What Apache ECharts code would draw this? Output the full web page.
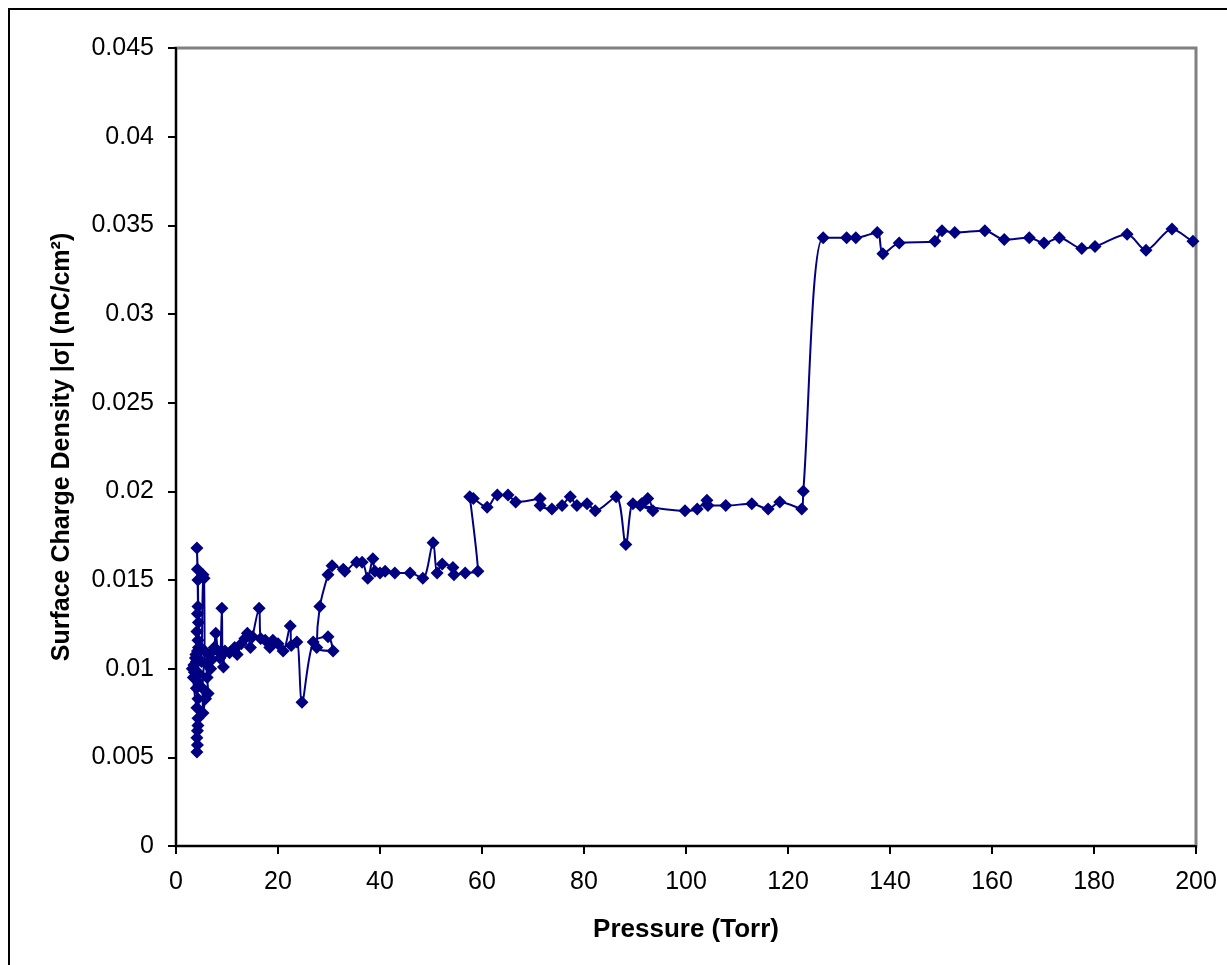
<!DOCTYPE html>
<html>
<head>
<meta charset="utf-8">
<script src="https://cdn.jsdelivr.net/npm/echarts@6/dist/echarts.min.js"></script>
<style>
html,body{margin:0;padding:0;background:#fff;}
#chart{width:1227px;height:965px;}
</style>
</head>
<body>
<div id="chart"></div>
<script>
// Pressure (Torr), in measurement order
const pressure = [
  3.2, 3.6, 4.0, 4.2, 3.8, 4.3, 4.1, 4.4, 4.2, 4.3, 4.2, 4.1, 4.3, 4.4, 4.2, 4.0, 4.3, 4.1, 4.3, 4.2, 4.1, 4.2, 4.1,
  4.3, 3.4, 3.9, 4.6, 3.5, 4.8, 5.0, 5.3, 5.5, 5.6, 5.2, 5.3, 5.8, 6.3, 6.1, 5.9, 6.8, 6.5, 7.0, 7.5, 7.8, 8.2,
  8.6, 9.0, 9.1, 9.3, 9.6,
  10.5, 11.5, 12.0, 12.8, 13.5, 14.0, 14.6, 15.0, 16.3, 16.6, 17.5, 18.4, 19.0, 20.0, 21.0, 22.4, 22.6, 23.7,
  24.7, 26.9, 29.8, 30.8, 27.6, 28.2, 29.8, 30.6, 32.8, 33.1, 35.4, 36.5, 37.6, 38.6, 39.0, 40.0, 41.0, 42.9,
  45.9, 48.4, 50.4, 51.2, 52.2, 54.3, 54.5, 56.7, 59.2, 57.6, 58.3, 61.0, 63.0, 65.1, 66.6, 71.4, 71.4, 73.7,
  75.7, 77.3, 78.6, 80.6, 82.2, 86.3, 88.2, 89.6, 91.3, 92.5, 93.5, 91.0, 99.8, 102.2, 104.1, 104.3, 107.8,
  112.9, 116.1, 118.4, 122.7, 123.0, 126.9, 131.5, 133.3, 137.5, 138.6, 141.8, 148.8, 150.2, 152.7, 158.6,
  162.4, 167.3, 170.2, 173.2, 177.6, 180.2, 186.5, 190.2, 195.3, 199.4, 201.3
];
// Surface charge density |sigma| (nC/cm^2)
const density = [
  0.0100, 0.0098, 0.0104, 0.0110, 0.0106, 0.0116, 0.0121, 0.0126, 0.0131, 0.0135, 0.0156, 0.0168, 0.0150, 0.0112, 0.0093, 0.0089, 0.0083, 0.0078, 0.0072, 0.0065, 0.0061, 0.0057, 0.0053,
  0.0068, 0.0095, 0.0108, 0.0097, 0.0102, 0.0112, 0.0104, 0.0153, 0.0151, 0.0110, 0.0089, 0.0075, 0.0083, 0.0086, 0.0095, 0.0103, 0.0100, 0.0108, 0.0105, 0.0112, 0.0120, 0.0110,
  0.0106, 0.0134, 0.0108, 0.0101, 0.0110,
  0.0109, 0.0112, 0.0108, 0.0114, 0.0117, 0.0120, 0.0112, 0.0118, 0.0134, 0.0117, 0.0116, 0.0112, 0.0116, 0.0114, 0.0110, 0.0124, 0.0113, 0.0115,
  0.0081, 0.0115, 0.0118, 0.0110, 0.0112, 0.0135, 0.0153, 0.0158, 0.0156, 0.0155, 0.0160, 0.0160, 0.0151, 0.0162, 0.0155, 0.0154, 0.0155, 0.0154,
  0.0154, 0.0151, 0.0171, 0.0154, 0.0159, 0.0157, 0.0153, 0.0154, 0.0155, 0.0197, 0.0196, 0.0191, 0.0198, 0.0198, 0.0194, 0.0196, 0.0192, 0.0190,
  0.0192, 0.0197, 0.0192, 0.0193, 0.0189, 0.0197, 0.0170, 0.0193, 0.0193, 0.0196, 0.0189, 0.0192, 0.0189, 0.0190, 0.0195, 0.0192, 0.0192,
  0.0193, 0.0190, 0.0194, 0.0190, 0.0200, 0.0343, 0.0343, 0.0343, 0.0346, 0.0334, 0.0340, 0.0341, 0.0347, 0.0346, 0.0347,
  0.0342, 0.0343, 0.0340, 0.0343, 0.0337, 0.0338, 0.0345, 0.0336, 0.0348, 0.0341, 0.0340
];
const xTicks = [0, 20, 40, 60, 80, 100, 120, 140, 160, 180, 200];
const yTicks = [0, 0.005, 0.01, 0.015, 0.02, 0.025, 0.03, 0.035, 0.04, 0.045];

const xMin = xTicks[0], xMax = xTicks[xTicks.length - 1];
const data = pressure.map((p, i) => {
  const item = { value: [p, density[i]] };
  if (p > xMax) item.symbol = 'none';
  return item;
});

const chart = echarts.init(document.getElementById('chart'));
const navy = '#000080';
const font = '"Liberation Sans", Arial, sans-serif';
chart.setOption({
  animation: false,
  backgroundColor: '#ffffff',
  graphic: [{
    type: 'rect', shape: { x: 9, y: 9, width: 1240, height: 980 },
    style: { fill: 'none', stroke: '#000', lineWidth: 2 }, z: -1
  }],
  grid: {
    left: 176, top: 48, right: 31, bottom: 119,
    show: true, borderColor: '#808080', borderWidth: 3, backgroundColor: '#fff'
  },
  xAxis: {
    type: 'value', min: xMin, max: xMax, interval: xTicks[1] - xTicks[0],
    name: 'Pressure (Torr)', nameLocation: 'middle', nameGap: 71,
    nameTextStyle: { fontFamily: font, fontSize: 26, fontWeight: 'bold', color: '#000' },
    axisLine: { show: true, onZero: false, lineStyle: { color: '#000', width: 2 } },
    axisTick: { show: true, length: 8, inside: false, lineStyle: { color: '#000', width: 2 } },
    axisLabel: { fontFamily: font, fontSize: 25, color: '#000', margin: 24 },
    splitLine: { show: false }
  },
  yAxis: {
    type: 'value', min: yTicks[0], max: yTicks[yTicks.length - 1], interval: yTicks[1] - yTicks[0],
    name: 'Surface Charge Density |σ| (nC/cm²)', nameLocation: 'middle', nameGap: 101,
    nameTextStyle: { fontFamily: font, fontSize: 25, fontWeight: 'bold', color: '#000' },
    axisLine: { show: true, onZero: false, lineStyle: { color: '#000', width: 2 } },
    axisTick: { show: true, length: 8, inside: false, lineStyle: { color: '#000', width: 2 } },
    axisLabel: {
      fontFamily: font, fontSize: 25, color: '#000', margin: 22,
      formatter: v => String(parseFloat(v.toFixed(3)))
    },
    splitLine: { show: false }
  },
  series: [{
    type: 'line',
    data: data,
    smooth: 0.3,
    clip: false,
    symbol: 'diamond',
    symbolSize: 13,
    showAllSymbol: true,
    lineStyle: { color: navy, width: 2 },
    itemStyle: { color: navy, borderWidth: 0 }
  }]
});
</script>
</body>
</html>
